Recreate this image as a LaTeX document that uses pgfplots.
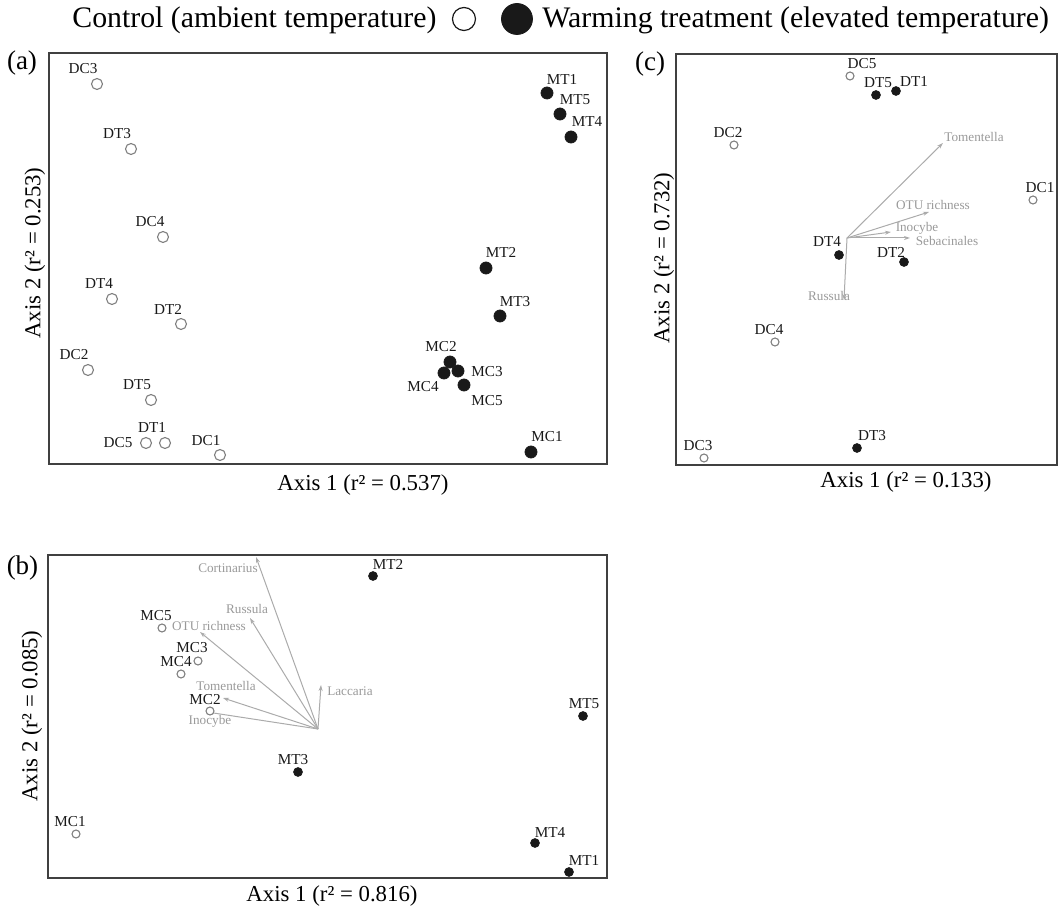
\documentclass[border=0pt]{standalone}
\usepackage{fontspec}
\setmainfont{Liberation Serif}
\usepackage{pgfplots}
\pgfplotsset{compat=1.18}
\usetikzlibrary{arrows.meta}

\definecolor{boxgray}{HTML}{404040}
\definecolor{opengray}{HTML}{808080}
\definecolor{vecgray}{HTML}{ABABAB}
\definecolor{vectxt}{HTML}{999999}

\newcommand\lblfont{\fontsize{7.6}{9}\selectfont}
\newcommand\vecfont{\fontsize{6.6}{8}\selectfont}
\newcommand\ttlfont{\fontsize{11.4}{13}\selectfont}
\newcommand\legfont{\fontsize{14.9}{17}\selectfont}
\newcommand\panfont{\fontsize{13.5}{16}\selectfont}

% units: 1 px of the figure = 0.5pt; data are read off the picture in px
\pgfplotsset{
  ordi/.style={
    scale only axis, clip=false, anchor=south west,
    axis line style={boxgray, line width=0.65pt},
    xtick=\empty, ytick=\empty, xmin=0, ymin=0,
  },
  samp/.style={
    only marks, forget plot,
    nodes near coords, point meta=explicit symbolic,
    nodes near coords align=center,
    visualization depends on={\thisrow{dx} \as \dx},
    visualization depends on={\thisrow{dy} \as \dy},
    nodes near coords style={anchor=center, inner sep=0pt,
      xshift=\dx*0.5pt, yshift=\dy*0.5pt, font=\lblfont, text=black!90},
  },
  openpt/.style={samp, mark=*, mark size=#1,
    mark options={draw=opengray, fill=white, line width=0.55pt}},
  fullpt/.style={samp, mark=*, mark size=#1,
    mark options={draw=black!90, fill=black!90}},
  vec/.style={forget plot, vecgray, line width=0.5pt, mark=none,
    -{Stealth[length=3pt,width=2pt]},
    quiver={u=\thisrow{u}, v=\thisrow{v}}},
  veclab/.style={forget plot, only marks, mark=none,
    nodes near coords, point meta=explicit symbolic,
    nodes near coords align=center,
    nodes near coords style={anchor=center, inner sep=0pt, font=\vecfont, text=vectxt}},
}

% panel (a)
\pgfplotstableread{
x   y   dx  dy  lab
48  380 -14 15  DC3
82  315 -14 15  DT3
114 227 -13 15  DC4
63  165 -13 15  DT4
132 140 -13 15  DT2
39  94  -14 15  DC2
102 64  -14 15  DT5
116 21  -13 16  DT1
97  21  -28 0   DC5
171 9   -14 14  DC1
}\aopen
\pgfplotstableread{
x   y   dx  dy  lab
498 371 15  14  MT1
511 350 15  14  MT5
522 327 16  15  MT4
437 196 15  16  MT2
451 148 15  14  MT3
401 102 -9  15  MC2
409 93  29  -1  MC3
395 91  -21 -14 MC4
415 79  23  -16 MC5
482 12  16  15  MC1
}\afull

% panel (b)
\pgfplotstableread{
x   y   dx  dy  lab
114 250 -6  12  MC5
150 217 -6  13  MC3
133 204 -5  12  MC4
162 167 -5  11  MC2
28  44  -6  12  MC1
}\bopen
\pgfplotstableread{
x   y   dx  dy  lab
250 106 -5  12  MT3
325 302 15  12  MT2
535 162 1   12  MT5
487 35  15  11  MT4
521 6   15  12  MT1
}\bfull
\pgfplotstableread{
x   y   u    v   lx  ly  lab
270 149 -62  172 180 310 Cortinarius
270 149 -68  111 199 269 Russula
270 149 -118 97  161 252 {OTU richness}
270 149 -95  31  178 192 Tomentella
270 149 -111 17  162 157 Inocybe
270 149 3    44  302 187 Laccaria
}\bvec

% panel (c)
\pgfplotstableread{
x   y   dx  dy  lab
174 389 12  12  DC5
58  320 -6  12  DC2
357 265 7   12  DC1
99  123 -6  12  DC4
28  7   -6  12  DC3
}\copen
\pgfplotstableread{
x   y   dx  dy  lab
200 370 2   12  DT5
220 374 18  9   DT1
163 210 -12 13  DT4
228 203 -13 10  DT2
181 17  15  12  DT3
}\cfull
\pgfplotstableread{
x   y   u   v   lx  ly  lab
171 227 96  95  298 328 Tomentella
171 227 82  26  257 260 {OTU richness}
171 227 44  6   241 237 Inocybe
171 227 63  0   271 224 Sebacinales
171 227 -3  -62 153 169 Russula
}\cvec

\begin{document}
\begin{tikzpicture}
\useasboundingbox (0,0) rectangle (530.5pt,455.5pt);

% (a)
\begin{axis}[ordi, at={(24.5pt,223.5pt)}, width=279pt, height=205.5pt,
  xmax=558, ymax=411,
  legend columns=3,
  legend style={draw=none, fill=none, font=\legfont,
    at={(axis cs:7,445)}, anchor=west,
    /tikz/every even column/.append style={column sep=6pt},
    /tikz/every odd column/.append style={column sep=3pt}},
]
\addplot[openpt=2.75pt] table[meta=lab] {\aopen};
\addplot[fullpt=3pt] table[meta=lab] {\afull};
\addlegendimage{empty legend}
\addlegendentry{Control (ambient temperature)}
\addlegendimage{only marks, mark=*, mark size=5.75pt,
  mark options={draw=black!90, fill=white, line width=0.6pt}}
\addlegendentry{\hspace{5pt}}
\addlegendimage{only marks, mark=*, mark size=7.75pt,
  mark options={draw=black!90, fill=black!90}}
\addlegendentry{Warming treatment (elevated temperature)}
\node[font=\ttlfont] at (axis cs:314,-21) {Axis 1 (r² = 0.537)};
\node[font=\ttlfont, rotate=90] at (axis cs:-14,211) {Axis 2 (r² = 0.253)};
\node[font=\panfont] at (axis cs:-27,401) {(a)};
\end{axis}

% (c)
\begin{axis}[ordi, at={(338pt,223pt)}, width=190.5pt, height=205.5pt,
  xmax=381, ymax=411]
\addplot[vec] table {\cvec};
\addplot[veclab] table[x=lx, y=ly, meta=lab] {\cvec};
\addplot[openpt=2pt] table[meta=lab] {\copen};
\addplot[fullpt=2.2pt] table[meta=lab] {\cfull};
\node[font=\ttlfont] at (axis cs:230,-17) {Axis 1 (r² = 0.133)};
\node[font=\ttlfont, rotate=90] at (axis cs:-12,207) {Axis 2 (r² = 0.732)};
\node[font=\panfont] at (axis cs:-26,401) {(c)};
\end{axis}

% (b)
\begin{axis}[ordi, at={(24pt,16.5pt)}, width=279.5pt, height=161.5pt,
  xmax=559, ymax=323]
\addplot[vec] table {\bvec};
\addplot[veclab] table[x=lx, y=ly, meta=lab] {\bvec};
\addplot[openpt=2pt] table[meta=lab] {\bopen};
\addplot[fullpt=2.2pt] table[meta=lab] {\bfull};
\node[font=\ttlfont] at (axis cs:284,-18) {Axis 1 (r² = 0.816)};
\node[font=\ttlfont, rotate=90] at (axis cs:-16,162) {Axis 2 (r² = 0.085)};
\node[font=\panfont] at (axis cs:-25.5,310) {(b)};
\end{axis}
\end{tikzpicture}
\end{document}
